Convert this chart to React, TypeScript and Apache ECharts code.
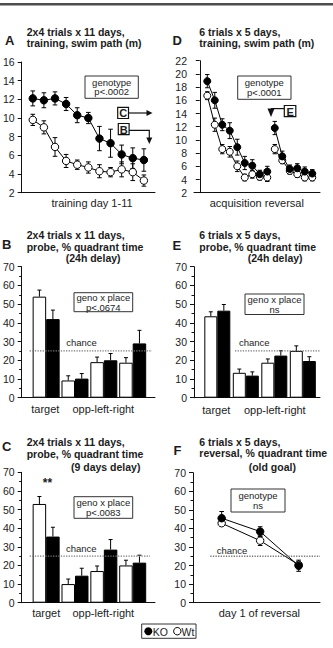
import React, { useEffect, useRef } from "react";
import * as echarts from "echarts";

const FONT = "'Liberation Sans', Arial, Helvetica, sans-serif";
const INK = "#1c1c1c";

// ---- Panel A: 2x4 trials x 11 days, training swim path (m)
const daysA = [1, 2, 3, 4, 5, 6, 7, 8, 9, 10, 11];
const koA = [12.1, 11.9, 12.1, 11.5, 10.3, 10.0, 7.8, 7.3, 6.1, 5.7, 5.5];
const koAErr = [0.8, 0.8, 0.7, 0.7, 0.8, 0.6, 1.3, 1.5, 1.0, 1.1, 1.2];
const wtA = [9.8, 9.0, 6.9, 5.4, 5.0, 4.7, 4.3, 4.2, 4.5, 4.2, 3.3];
const wtAErr = [0.6, 0.7, 1.0, 0.7, 0.5, 0.6, 0.7, 0.5, 0.8, 0.9, 0.6];

// ---- Panel D: 6 trials x 5 days, acquisition then reversal
const blocksAcq = [1, 2, 3, 4, 5, 6, 7, 8, 9];
const blocksRev = [10, 11, 12, 13, 14, 15];
const koAcq = [18.9, 16.0, 12.3, 11.4, 8.9, 6.5, 6.1, 4.8, 5.2];
const koAcqErr = [1.0, 1.2, 0.9, 1.2, 1.2, 1.0, 0.9, 0.6, 0.8];
const wtAcq = [16.7, 12.3, 8.6, 8.2, 6.0, 4.3, 4.8, 4.4, 4.3];
const wtAcqErr = [0.6, 1.0, 0.7, 0.8, 0.8, 0.5, 0.6, 0.5, 0.6];
const koRev = [11.8, 7.5, 5.6, 5.7, 5.2, 4.9];
const koRevErr = [1.0, 0.8, 0.6, 0.7, 0.7, 0.6];
const wtRev = [8.6, 6.9, 5.3, 4.8, 4.3, 4.3];
const wtRevErr = [0.7, 0.5, 0.5, 0.5, 0.5, 0.5];

// ---- Probe panels: quadrants target, opp, left, right
const quadrants = [1, 2, 3, 4];
const wtB = [54, 9.2, 19, 18.7];
const wtBErr = [3.5, 2.5, 2.7, 2.7];
const koB = [42, 10.2, 20, 29];
const koBErr = [4.8, 2.7, 3.6, 7];

const wtC = [53, 10, 17, 20];
const wtCErr = [4, 2.7, 2.7, 2.8];
const koC = [35.5, 14.5, 28.5, 21.5];
const koCErr = [5, 4, 5.4, 4];

const wtE = [43.5, 13.3, 18.7, 25];
const wtEErr = [2.4, 2, 2, 2.7];
const koE = [46.5, 11.8, 22.5, 19.6];
const koEErr = [3.3, 2, 2.6, 2.3];

// ---- Panel F: reversal, % time in old goal quadrant
const trialsF = [1, 2, 3];
const koF = [45.5, 38.3, 19.9];
const koFErr = [3.6, 2.6, 3];
const wtF = [42.8, 33.4, 20.4];
const wtFErr = [1.5, 2.6, 1.5];

const CHANCE = 25;

// grid order: 0 A, 1 D, 2 B, 3 E, 4 C, 5 F
const grids = [
  { left: 21, top: 62, width: 134, height: 130.7 },
  { left: 194, top: 60.7, width: 126, height: 132 },
  { left: 21, top: 266.7, width: 134, height: 131 },
  { left: 194, top: 266.7, width: 126, height: 131 },
  { left: 21, top: 472.3, width: 134, height: 130.4 },
  { left: 193, top: 472.7, width: 127, height: 130 },
];

function xAxis(gi: number, min: number, max: number) {
  return {
    type: "value",
    gridIndex: gi,
    min,
    max,
    axisLine: { show: true, lineStyle: { color: "#111", width: 1 } },
    axisTick: { show: false },
    axisLabel: { show: false },
    splitLine: { show: false },
  };
}

function yAxis(gi: number, min: number, max: number, interval: number, minor: boolean) {
  return {
    type: "value",
    gridIndex: gi,
    min,
    max,
    interval,
    axisLine: { show: true, lineStyle: { color: "#111", width: 1 } },
    axisTick: { show: true, length: 4, lineStyle: { color: "#111" } },
    minorTick: { show: minor, splitNumber: 2, length: 2.5, lineStyle: { color: "#111" } },
    axisLabel: { fontSize: 10.5, fontFamily: FONT, color: INK, margin: 7 },
    splitLine: { show: false },
    minorSplitLine: { show: false },
  };
}

function lineSeries(gi: number, xs: number[], ys: number[], filled: boolean, size: number) {
  return {
    type: "line",
    xAxisIndex: gi,
    yAxisIndex: gi,
    data: xs.map((x, i) => [x, ys[i]]),
    symbol: "circle",
    symbolSize: size,
    showSymbol: true,
    lineStyle: { color: "#000", width: 1 },
    itemStyle: { color: filled ? "#000" : "#fff", borderColor: "#000", borderWidth: 1 },
    z: filled ? 4 : 3,
  };
}

function errorSeries(
  gi: number,
  xs: number[],
  ys: number[],
  errs: number[],
  both: boolean,
  offset: number,
  cap: number
) {
  return {
    type: "custom",
    xAxisIndex: gi,
    yAxisIndex: gi,
    silent: true,
    z: 2,
    encode: { x: 0, y: 1 },
    data: xs.map((x, i) => [x, ys[i], errs[i]]),
    renderItem: (_params: any, api: any) => {
      const x = api.value(0);
      const y = api.value(1);
      const e = api.value(2);
      const top = api.coord([x, y + e]);
      const mid = api.coord([x, y]);
      const bot = api.coord([x, y - e]);
      const cx = mid[0] + offset;
      const st = { stroke: "#000", lineWidth: 1 };
      const children: any[] = [
        { type: "line", shape: { x1: cx, y1: both ? bot[1] : mid[1], x2: cx, y2: top[1] }, style: st },
        { type: "line", shape: { x1: cx - cap, y1: top[1], x2: cx + cap, y2: top[1] }, style: st },
      ];
      if (both) {
        children.push({ type: "line", shape: { x1: cx - cap, y1: bot[1], x2: cx + cap, y2: bot[1] }, style: st });
      }
      return { type: "group", children };
    },
  };
}

function barSeries(gi: number, vals: number[], filled: boolean, width: number) {
  return {
    type: "bar",
    xAxisIndex: gi,
    yAxisIndex: gi,
    data: quadrants.map((q, i) => [q, vals[i]]),
    barWidth: width,
    barGap: "0%",
    itemStyle: { color: filled ? "#000" : "#fff", borderColor: "#000", borderWidth: 1 },
    z: 2,
  };
}

function chanceSeries(gi: number, x0: number, x1: number) {
  return {
    type: "line",
    xAxisIndex: gi,
    yAxisIndex: gi,
    data: [
      [x0, CHANCE],
      [x1, CHANCE],
    ],
    symbol: "none",
    silent: true,
    lineStyle: { color: "#777", width: 1.3, type: [1.3, 1.3] },
    z: 5,
  };
}

function txt(x: number, y: number, s: string, size: number, bold = false, align = "left") {
  return {
    type: "text",
    x,
    y,
    silent: true,
    style: {
      text: s,
      fontSize: size,
      fontWeight: bold ? "bold" : "normal",
      fontFamily: FONT,
      fill: INK,
      align,
      verticalAlign: "middle",
    },
  };
}

function box(x: number, y: number, w: number, h: number, lines: string[], size = 9.5) {
  const cx = x + w / 2;
  const step = 9.6;
  const first = y + h / 2 - ((lines.length - 1) * step) / 2;
  return [
    { type: "rect", shape: { x, y, width: w, height: h }, style: { fill: "#fff", stroke: "#333", lineWidth: 1 }, silent: true },
    ...lines.map((l, i) => txt(cx, first + i * step, l, size, false, "center")),
  ];
}

function letterBox(x: number, y: number, w: number, h: number, s: string) {
  return [
    { type: "rect", shape: { x, y, width: w, height: h }, style: { fill: "#fff", stroke: "#111", lineWidth: 1.2 }, silent: true },
    txt(x + w / 2, y + h / 2 + 0.5, s, 11, true, "center"),
  ];
}

const lineStyle = { stroke: "#111", lineWidth: 1.2 };

function buildGraphics() {
  const T = 10.5;
  const els: any[] = [
    // rule across the top of the figure
    { type: "rect", shape: { x: 0, y: 3, width: 333, height: 2.5 }, style: { fill: "#4d4d4d" }, silent: true },

    // Panel A
    txt(5, 40.5, "A", 13, true),
    txt(26.7, 31.7, "2x4 trials x 11 days,", T, true),
    txt(26.7, 43.3, "training, swim path (m)", T, true),
    ...box(85, 76, 53.3, 22.3, ["genotype", "p<.0002"]),
    ...letterBox(117.7, 107.3, 10.8, 11.2, "C"),
    { type: "line", shape: { x1: 128.5, y1: 113, x2: 147, y2: 113 }, style: lineStyle, silent: true },
    { type: "polygon", shape: { points: [[146.5, 110], [152.5, 113], [146.5, 116]] }, style: { fill: "#111" }, silent: true },
    ...letterBox(118.3, 123.5, 10.8, 11.2, "B"),
    { type: "polyline", shape: { points: [[129.1, 130.3], [149.3, 130.3], [149.3, 138]] }, style: { ...lineStyle, fill: null }, silent: true },
    { type: "polygon", shape: { points: [[146.3, 137.5], [152.3, 137.5], [149.3, 144]] }, style: { fill: "#111" }, silent: true },
    txt(92, 203, "training day 1-11", 11, false, "center"),

    // Panel D
    txt(172.5, 40.5, "D", 13, true),
    txt(199.3, 31.7, "6 trials x 5 days,", T, true),
    txt(199.3, 43.3, "training, swim path (m)", T, true),
    ...box(237.7, 76, 53.3, 23.3, ["genotype", "p<.0001"]),
    ...letterBox(284.3, 105.5, 11.5, 11.2, "E"),
    { type: "line", shape: { x1: 284.3, y1: 108.6, x2: 271, y2: 108.6 }, style: lineStyle, silent: true },
    { type: "polygon", shape: { points: [[267.5, 108.6], [274.5, 108.6], [271, 117]] }, style: { fill: "#111" }, silent: true },
    txt(256.8, 203.3, "acquisition reversal", 11, false, "center"),

    // Panel B
    txt(2, 244, "B", 13, true),
    txt(26.7, 235, "2x4 trials x 11 days,", T, true),
    txt(26.7, 246.7, "probe, % quadrant time", T, true),
    txt(65.7, 258.3, "(24h delay)", T, true),
    ...box(74, 292.7, 58.7, 19, ["geno x place", "p<.0674"]),
    txt(81.5, 342.7, "chance", 9.5, false, "center"),
    txt(45.3, 409.3, "target", 11, false, "center"),
    txt(103.3, 409.3, "opp-left-right", 11, false, "center"),

    // Panel E
    txt(172.5, 245, "E", 13, true),
    txt(199.3, 235, "6 trials x 5 days,", T, true),
    txt(199.3, 246.7, "probe, % quadrant time", T, true),
    txt(247.7, 258.3, "(24h delay)", T, true),
    ...box(245, 294, 59, 20.5, ["geno x place", "ns"]),
    txt(254.3, 342.7, "chance", 9.5, false, "center"),
    txt(216.3, 409.8, "target", 11, false, "center"),
    txt(274.8, 409.8, "opp-left-right", 11, false, "center"),

    // Panel C
    txt(2, 446.7, "C", 13, true),
    txt(26.7, 442.3, "2x4 trials x 11 days,", T, true),
    txt(26.7, 454.3, "probe, % quadrant time", T, true),
    txt(71, 466.7, "(9 days delay)", T, true),
    txt(47.5, 483, "**", 12, true, "center"),
    ...box(74, 496.7, 58.7, 21.6, ["geno x place", "p<.0083"]),
    txt(81.3, 548.3, "chance", 9.5, false, "center"),
    txt(46.2, 613.3, "target", 11, false, "center"),
    txt(103.3, 613.3, "opp-left-right", 11, false, "center"),

    // Panel F
    txt(173.5, 450, "F", 13, true),
    txt(199.3, 441.7, "6 trials x 5 days,", T, true),
    txt(199.3, 453.3, "reversal, % quadrant time", T, true),
    txt(248.7, 466.7, "(old goal)", T, true),
    ...box(231, 489, 54, 23, ["genotype", "ns"]),
    txt(232, 550, "chance", 9.5, false, "center"),
    txt(259.3, 612.7, "day 1 of reversal", 11, false, "center"),

    // legend
    { type: "rect", shape: { x: 141.7, y: 624, width: 54.3, height: 14.3 }, style: { fill: "#fff", stroke: "#333", lineWidth: 1 }, silent: true },
    { type: "circle", shape: { cx: 148.3, cy: 631.2, r: 4 }, style: { fill: "#000" }, silent: true },
    txt(152.8, 631.5, "KO", 10.5),
    { type: "circle", shape: { cx: 177.3, cy: 631.2, r: 3.7 }, style: { fill: "#fff", stroke: "#000", lineWidth: 1 }, silent: true },
    txt(181.6, 631.5, "Wt", 10.5),
  ];
  return els;
}

export default function App() {
  const ref = useRef<HTMLDivElement | null>(null);

  useEffect(() => {
    if (!ref.current) return;
    const chart = echarts.init(ref.current, undefined, { renderer: "svg" });

    const barW = 13.5;
    const barWE = 13;

    const option: any = {
      animation: false,
      backgroundColor: "#fff",
      grid: grids.map((g) => ({ ...g, containLabel: false })),
      xAxis: [
        xAxis(0, 0, 12),
        xAxis(1, -0.77, 16.03),
        xAxis(2, 0.152, 4.773),
        xAxis(3, 0.182, 4.603),
        xAxis(4, 0.152, 4.773),
        xAxis(5, 0.255, 3.555),
      ],
      yAxis: [
        yAxis(0, 2, 16, 2, false),
        yAxis(1, 2, 22, 2, false),
        yAxis(2, 0, 70, 10, true),
        yAxis(3, 0, 70, 10, true),
        yAxis(4, 0, 70, 10, true),
        yAxis(5, 0, 70, 10, true),
      ],
      series: [
        // A
        errorSeries(0, daysA, koA, koAErr, true, 0, 2.3),
        errorSeries(0, daysA, wtA, wtAErr, true, 0, 2.3),
        lineSeries(0, daysA, wtA, false, 7.5),
        lineSeries(0, daysA, koA, true, 7.5),

        // D
        errorSeries(1, blocksAcq, koAcq, koAcqErr, true, 0, 2.2),
        errorSeries(1, blocksAcq, wtAcq, wtAcqErr, true, 0, 2.2),
        errorSeries(1, blocksRev, koRev, koRevErr, true, 0, 2.2),
        errorSeries(1, blocksRev, wtRev, wtRevErr, true, 0, 2.2),
        lineSeries(1, blocksAcq, wtAcq, false, 7),
        lineSeries(1, blocksAcq, koAcq, true, 7),
        lineSeries(1, blocksRev, wtRev, false, 7),
        lineSeries(1, blocksRev, koRev, true, 7),

        // B
        barSeries(2, wtB, false, barW),
        barSeries(2, koB, true, barW),
        errorSeries(2, quadrants, wtB, wtBErr, false, -barW / 2, 2),
        errorSeries(2, quadrants, koB, koBErr, false, barW / 2, 2),
        chanceSeries(2, 0.428, 4.67),

        // E
        barSeries(3, wtE, false, barWE),
        barSeries(3, koE, true, barWE),
        errorSeries(3, quadrants, wtE, wtEErr, false, -barWE / 2, 2),
        errorSeries(3, quadrants, koE, koEErr, false, barWE / 2, 2),
        chanceSeries(3, 1.62, 4.603),

        // C
        barSeries(4, wtC, false, barW),
        barSeries(4, koC, true, barW),
        errorSeries(4, quadrants, wtC, wtCErr, false, -barW / 2, 2),
        errorSeries(4, quadrants, koC, koCErr, false, barW / 2, 2),
        chanceSeries(4, 0.428, 4.6),

        // F
        chanceSeries(5, 0.704, 3.555),
        errorSeries(5, trialsF, koF, koFErr, true, 0, 2.3),
        errorSeries(5, trialsF, wtF, wtFErr, true, 0, 2.3),
        lineSeries(5, trialsF, wtF, false, 7.5),
        lineSeries(5, trialsF, koF, true, 7.5),
      ],
      graphic: { elements: buildGraphics() },
    };

    chart.setOption(option);
    return () => {
      chart.dispose();
    };
  }, []);

  return (
    <div
      ref={ref}
      style={{ position: "absolute", left: 0, top: 0, width: 333, height: 648, background: "#fff" }}
    />
  );
}
